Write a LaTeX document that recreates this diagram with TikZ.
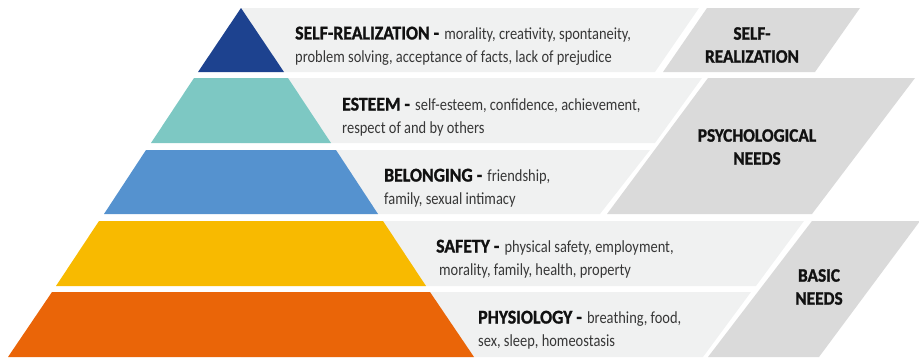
\documentclass[tikz,border=0pt]{standalone}
\usepackage{fontspec}
\setmainfont{Carlito}[FakeStretch=0.85]
\newfontfamily\headfont{Carlito}[FakeStretch=0.91,FakeBold=1.2]
\usepackage{tikz}
\usetikzlibrary{positioning}
\definecolor{topblue}{RGB}{29,66,143}
\definecolor{esteemteal}{RGB}{125,200,195}
\definecolor{belongblue}{RGB}{85,146,207}
\definecolor{safetyyellow}{RGB}{248,186,0}
\definecolor{physorange}{RGB}{234,101,8}
\definecolor{lightband}{RGB}{240,241,241}
\definecolor{needgray}{RGB}{218,218,218}
\definecolor{bodygray}{RGB}{55,55,55}
\definecolor{headblack}{RGB}{17,17,17}
\newcommand\lvlhead[1]{{\headfont\bfseries\fontsize{19.5}{23}\selectfont\color{headblack}#1}\hspace{2pt}}

\begin{document}
\begin{tikzpicture}[x=1pt,y=-1pt,
          band/.style={fill=lightband},
          needbox/.style={fill=needgray},
          level/.style={anchor=west,align=left,inner sep=0pt,text=bodygray,
            font=\fontsize{17}{23}\selectfont},
          group/.style={align=center,inner sep=0pt,text=headblack,
            font=\headfont\bfseries\fontsize{19}{23}\selectfont}]
          \useasboundingbox (0,0) rectangle (919,359);
          \fill[band] (241,8) -- (699,8) -- (655,72) -- (241,72) -- cycle;
          \fill[band] (241,78) -- (702,78) -- (655,143) -- (241,143) -- cycle;
          \fill[band] (241,150) -- (650,150) -- (600,214) -- (241,214) -- cycle;
          \fill[band] (241,221) -- (804,221) -- (756,286) -- (241,286) -- cycle;
          \fill[band] (241,292) -- (751,292) -- (703,357) -- (241,357) -- cycle;
          \fill[needbox] (707,8) -- (860,8) -- (815,72) -- (663,72) -- cycle;
          \fill[needbox] (708,78) -- (915,78) -- (812,214) -- (607,214) -- cycle;
          \fill[needbox] (812,221) -- (920,221) -- (819,357) -- (708,357) -- cycle;
          \fill[topblue] (241,8) -- (284,72) -- (198,72) -- cycle;
          \fill[esteemteal] (194,78) -- (288,78) -- (331,143) -- (151,143) -- cycle;
          \fill[belongblue] (146,150) -- (336,150) -- (378,214) -- (104,214) -- cycle;
          \fill[safetyyellow] (99,221) -- (383,221) -- (426,286) -- (56,286) -- cycle;
          \fill[physorange] (52,292) -- (430,292) -- (474,357) -- (8,357) -- cycle;
          \node[level] (selfreal) at (295,46) {\lvlhead{SELF-REALIZATION -} morality, creativity, spontaneity,\\problem solving, acceptance of facts, lack of prejudice};
          \node[level] (esteem) at (342,117) {\lvlhead{ESTEEM -} self-esteem, confidence, achievement,\\respect of and by others};
          \node[level] (belonging) at (384,188) {\lvlhead{BELONGING -} friendship,\\family, sexual intimacy};
          \node[level] (safety) at (436,259) {\lvlhead{SAFETY -} physical safety, employment,\\\hspace*{3pt}morality, family, health, property};
          \node[level] (physiology) at (478,330) {\lvlhead{PHYSIOLOGY -} breathing, food,\\sex, sleep, homeostasis};
          \node[group] (selfgroup) at (752,45) {SELF-\\REALIZATION};
          \node[group] (psychgroup) at (757,147) {PSYCHOLOGICAL\\NEEDS};
          \node[group] (basicgroup) at (819,287) {BASIC\\NEEDS};
\end{tikzpicture}
\end{document}
